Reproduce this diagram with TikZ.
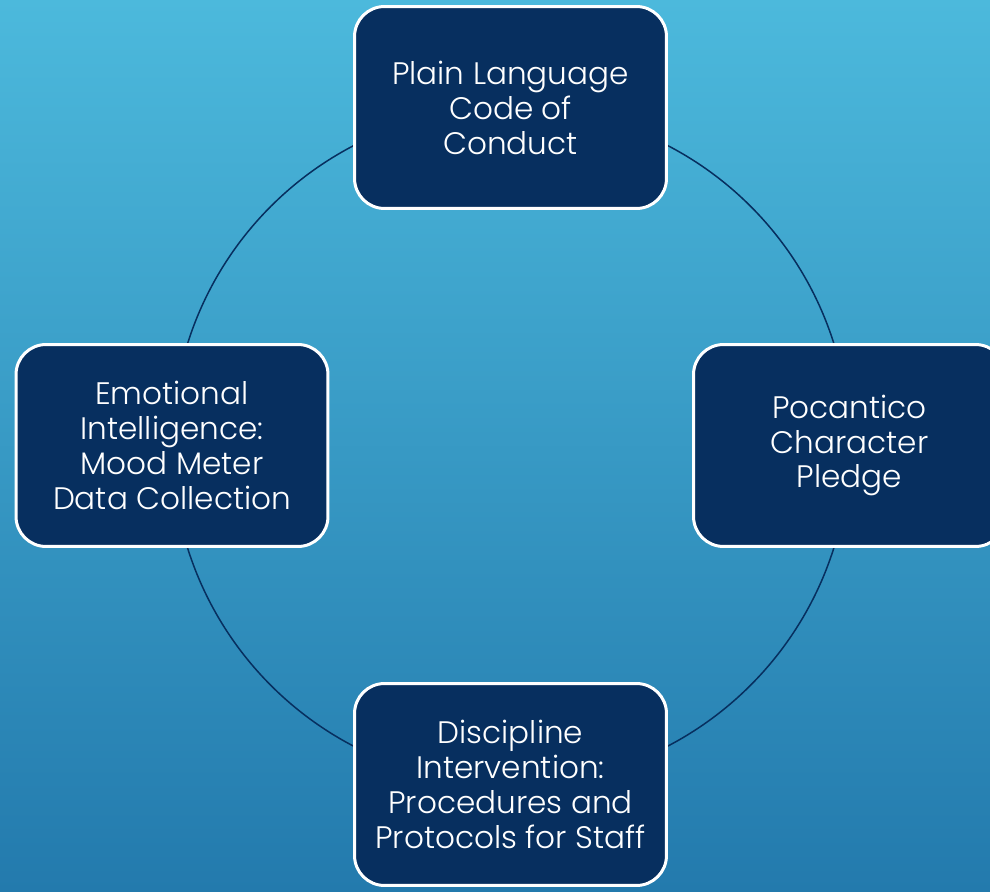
\documentclass[tikz,border=0pt]{standalone}
\usepackage{fontspec}
\setmainfont{Poppins}[UprightFont=* Light]
\usepackage{tikz}

\definecolor{bgtop}{HTML}{4CB9DC}
\definecolor{bgbot}{HTML}{237AAD}
\definecolor{navy}{HTML}{072F5F}

\pgfdeclarelayer{bg}
\pgfdeclarelayer{ring}
\pgfsetlayers{bg,ring,main}

\begin{document}
\begin{tikzpicture}[x=0.02cm,y=-0.02cm,
		stage/.style={rectangle, rounded corners=0.6cm, fill=navy, draw=white,
			line width=0.06cm, minimum width=6.24cm, minimum height=4.04cm,
			align=center, text=white, font=\fontsize{17.7}{19.9}\selectfont},
		ring/.style={navy, line width=0.03cm}]
		\clip (0,0) rectangle (990,892);
		% the four parts of the cycle
		\node[stage] (conduct) at (510.5,107.5) {Plain Language\\Code of\\Conduct};
		\node[stage] (pledge) at (849.5,445.5) {Pocantico\\Character\\Pledge};
		\node[stage] (discipline) at (510.5,784.5) {Discipline\\Intervention:\\Procedures and\\Protocols for Staff};
		\node[stage] (mood) at (172,445.5) {Emotional\\Intelligence:\\Mood Meter\\Data Collection};
		% circle through the centres, a quarter per pair
		\begin{pgfonlayer}{ring}
			\draw[ring] (conduct.center) to[bend left=45] (pledge.center);
			\draw[ring] (pledge.center) to[bend left=45] (discipline.center);
			\draw[ring] (discipline.center) to[bend left=45] (mood.center);
			\draw[ring] (mood.center) to[bend left=45] (conduct.center);
		\end{pgfonlayer}
		% backdrop
		\begin{pgfonlayer}{bg}
			\shade[top color=bgtop, bottom color=bgbot] (0,0) rectangle (990,892);
		\end{pgfonlayer}
	\end{tikzpicture}
\end{document}
